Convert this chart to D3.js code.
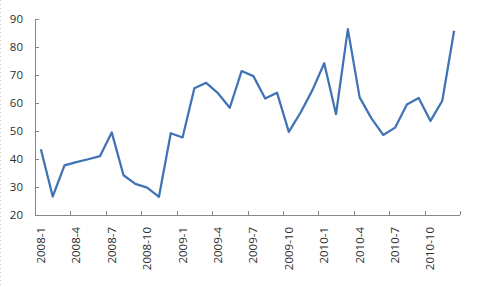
<!DOCTYPE html>
<html>
<head>
<meta charset="utf-8">
<script src="https://cdn.jsdelivr.net/npm/d3@7"></script>
<style>
  body { margin: 0; background: #fff; }
  svg { display: block; }
  .lbl { font-family: "Open Sans", "Noto Sans", sans-serif; font-size: 11.5px; fill: #2e2e2e; }
</style>
</head>
<body>
<svg id="chart" width="481" height="287"></svg>
<script>
var years = [2008, 2009, 2010];
var months = [1, 2, 3, 4, 5, 6, 7, 8, 9, 10, 11, 12];
var categories = [];
years.forEach(function(y){ months.forEach(function(m){ categories.push(y + "-" + m); }); });

var values = [43.5, 26.6, 37.7, 38.9, 39.9, 41.0, 49.5, 34.2, 31.1, 29.8, 26.5, 49.2,
              47.7, 65.3, 67.2, 63.5, 58.3, 71.4, 69.6, 61.6, 63.7, 49.7, 56.6, 64.6,
              74.2, 56.0, 86.4, 62.0, 54.5, 48.6, 51.2, 59.5, 61.8, 53.6, 60.8, 85.8];

var yTicks = [20, 30, 40, 50, 60, 70, 80, 90];

var svg = d3.select("#chart");
var margin = {top: 19, right: 21, bottom: 72, left: 35};
var width = 481, height = 287;

var x = d3.scaleBand()
    .domain(categories)
    .range([margin.left, width - margin.right])
    .padding(0);

var y = d3.scaleLinear()
    .domain([20, 90])
    .range([height - margin.bottom, margin.top]);

var axisColor = "#868686";

// faint chart-area border on the left edge
svg.append("line")
    .attr("x1", 0.5).attr("x2", 0.5)
    .attr("y1", 0).attr("y2", height)
    .attr("stroke", "#d0d0d0")
    .attr("stroke-dasharray", "1,3");

// y axis
var yAxis = svg.append("g")
    .attr("transform", "translate(" + margin.left + ",0)")
    .call(d3.axisLeft(y).tickValues(yTicks).tickSize(-4).tickPadding(12));
yAxis.select(".domain").attr("stroke", axisColor);
yAxis.selectAll(".tick line").attr("stroke", axisColor);
yAxis.selectAll(".tick text").attr("class", "lbl").attr("font-size", null).attr("font-family", null).attr("fill", null);

// x axis line
var x0 = margin.left, x1 = width - margin.right, yb = height - margin.bottom;
svg.append("line")
    .attr("x1", x0).attr("x2", x1)
    .attr("y1", yb + 0.5).attr("y2", yb + 0.5)
    .attr("stroke", axisColor);

// tick marks on category boundaries, every 3 months
var boundaries = categories.filter(function(d, i){ return i % 3 === 0; }).map(function(d){ return x(d); });
boundaries.push(x1);
svg.append("g").selectAll("line")
    .data(boundaries)
    .join("line")
    .attr("x1", function(d){ return Math.round(d) + 0.5; })
    .attr("x2", function(d){ return Math.round(d) + 0.5; })
    .attr("y1", yb).attr("y2", yb - 4)
    .attr("stroke", axisColor);

// x labels, rotated
var labelCats = categories.filter(function(d, i){ return i % 3 === 0; });
svg.append("g").selectAll("text")
    .data(labelCats)
    .join("text")
    .attr("class", "lbl")
    .attr("text-anchor", "end")
    .attr("transform", function(d){
        return "translate(" + (x(d) + x.bandwidth() / 2 + 4) + "," + (yb + 12) + ") rotate(-90)";
    })
    .text(function(d){ return d; });

// series line
var line = d3.line()
    .x(function(d, i){ return x(categories[i]) + x.bandwidth() / 2; })
    .y(function(d){ return y(d); });

svg.append("path")
    .datum(values)
    .attr("d", line)
    .attr("fill", "none")
    .attr("stroke", "#3f73b5")
    .attr("stroke-width", 2.25)
    .attr("stroke-linejoin", "round");
</script>
</body>
</html>
